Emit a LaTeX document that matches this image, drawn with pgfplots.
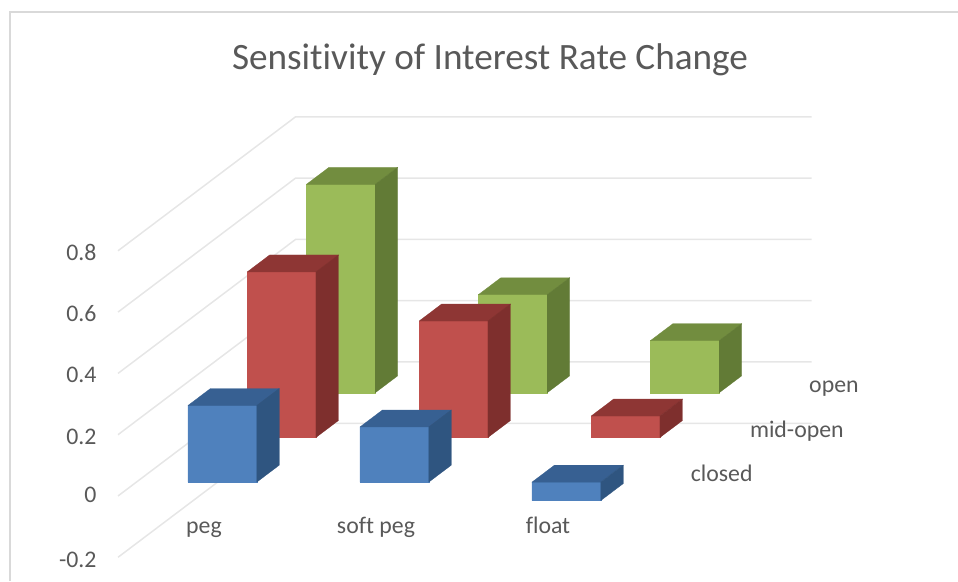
\documentclass[border=0pt]{standalone}
\usepackage{fontspec}
\usepackage{pgfplots}
\pgfplotsset{compat=1.18}
\setmainfont{Carlito}[Ligatures=NoCommon]

\definecolor{txt}{HTML}{595959}
\definecolor{gridc}{HTML}{E6E6E6}
\definecolor{framec}{HTML}{D9D9D9}
\definecolor{blueF}{HTML}{4F81BD}
\definecolor{blueT}{HTML}{376092}
\definecolor{blueS}{HTML}{2F5580}
\definecolor{redF}{HTML}{C0504D}
\definecolor{redT}{HTML}{8E3634}
\definecolor{redS}{HTML}{7E2F2D}
\definecolor{greenF}{HTML}{9BBB59}
\definecolor{greenT}{HTML}{728D3F}
\definecolor{greenS}{HTML}{627B36}

\tikzset{lab/.style={txt,font=\fontsize{23.8}{28}\selectfont}}

% one 3D bar: category index, series index, value, colour prefix
\newcommand{\threedbar}[4]{%
  \pgfmathsetmacro\xa{#1+0.3}%
  \pgfmathsetmacro\xb{#1+0.7}%
  \pgfmathsetmacro\ya{#2+0.31}%
  \pgfmathsetmacro\yb{#2+0.69}%
  \pgfmathsetmacro\zt{max(#3,0)}%
  \edef\temp{%
    \noexpand\addplot3[forget plot,no marks,draw=#4F,fill=#4F,line width=0.5pt]
      coordinates {(\xa,\ya,0) (\xb,\ya,0) (\xb,\ya,#3) (\xa,\ya,#3) (\xa,\ya,0)};
    \noexpand\addplot3[forget plot,no marks,draw=#4T,fill=#4T,line width=0.3pt]
      coordinates {(\xa,\ya,\zt) (\xb,\ya,\zt) (\xb,\yb,\zt) (\xa,\yb,\zt) (\xa,\ya,\zt)};
    \noexpand\addplot3[forget plot,no marks,draw=#4S,fill=#4S,line width=0.3pt]
      coordinates {(\xb,\ya,0) (\xb,\yb,0) (\xb,\yb,#3) (\xb,\ya,#3) (\xb,\ya,0)};
  }\temp
}

\begin{document}
\begin{tikzpicture}
\path[use as bounding box] (0,0) rectangle (958pt,581pt);
\draw[framec,line width=1.5pt] (10pt,0pt) -- (10pt,569pt) -- (958pt,569pt);
\node[txt,anchor=base,font=\fontsize{37.2}{44}\selectfont] at (490pt,511.5pt) {Sensitivity of Interest Rate Change};
\begin{axis}[
  at={(118pt,85pt)},
  anchor=origin,
  x={(172pt,0pt)},
  y={(59.2pt,44.67pt)},
  z={(0pt,306.5pt)},
  xmin=0, xmax=3,
  ymin=0, ymax=3,
  zmin=-0.2, zmax=0.8,
  hide x axis,
  hide y axis,
  clip=false,
  xtick=\empty,
  ytick=\empty,
  ztick={-0.2,0,0.2,0.4,0.6,0.8},
  zticklabels={-0.2,0,0.2,0.4,0.6,0.8},
  grid=none,
  axis line style={draw=none},
  major tick length=0pt,
  z tick label style={txt,font=\fontsize{23.8}{28}\selectfont,xshift=-18pt,yshift=4.5pt},
]
% gridlines on the side and back walls
\addplot3[forget plot,no marks,gridc,line width=1.5pt] coordinates {(0,0,-0.2) (0,3,-0.2) (3,3,-0.2)};
\addplot3[forget plot,no marks,gridc,line width=1.5pt] coordinates {(0,0,0) (0,3,0) (3,3,0)};
\addplot3[forget plot,no marks,gridc,line width=1.5pt] coordinates {(0,0,0.2) (0,3,0.2) (3,3,0.2)};
\addplot3[forget plot,no marks,gridc,line width=1.5pt] coordinates {(0,0,0.4) (0,3,0.4) (3,3,0.4)};
\addplot3[forget plot,no marks,gridc,line width=1.5pt] coordinates {(0,0,0.6) (0,3,0.6) (3,3,0.6)};
\addplot3[forget plot,no marks,gridc,line width=1.5pt] coordinates {(0,0,0.8) (0,3,0.8) (3,3,0.8)};

% open
\threedbar{0}{2}{0.68}{green}
\threedbar{1}{2}{0.32}{green}
\threedbar{2}{2}{0.17}{green}
% mid-open
\threedbar{0}{1}{0.54}{red}
\threedbar{1}{1}{0.38}{red}
\threedbar{2}{1}{0.07}{red}
% closed
\threedbar{0}{0}{0.25}{blue}
\threedbar{1}{0}{0.18}{blue}
\threedbar{2}{0}{-0.06}{blue}

\node[lab,anchor=base,yshift=-7pt] at (axis cs:0.5,0,-0.1) {peg};
\node[lab,anchor=base,yshift=-7pt] at (axis cs:1.5,0,-0.1) {soft peg};
\node[lab,anchor=base,yshift=-7pt] at (axis cs:2.5,0,-0.1) {float};
\node[lab,anchor=base west,inner sep=0pt,yshift=-8.2pt] at (axis cs:3.157,0.5,0) {closed};
\node[lab,anchor=base west,inner sep=0pt,yshift=-8.2pt] at (axis cs:3.157,1.5,0) {mid-open};
\node[lab,anchor=base west,inner sep=0pt,yshift=-8.2pt] at (axis cs:3.157,2.5,0) {open};
\end{axis}
\end{tikzpicture}
\end{document}
